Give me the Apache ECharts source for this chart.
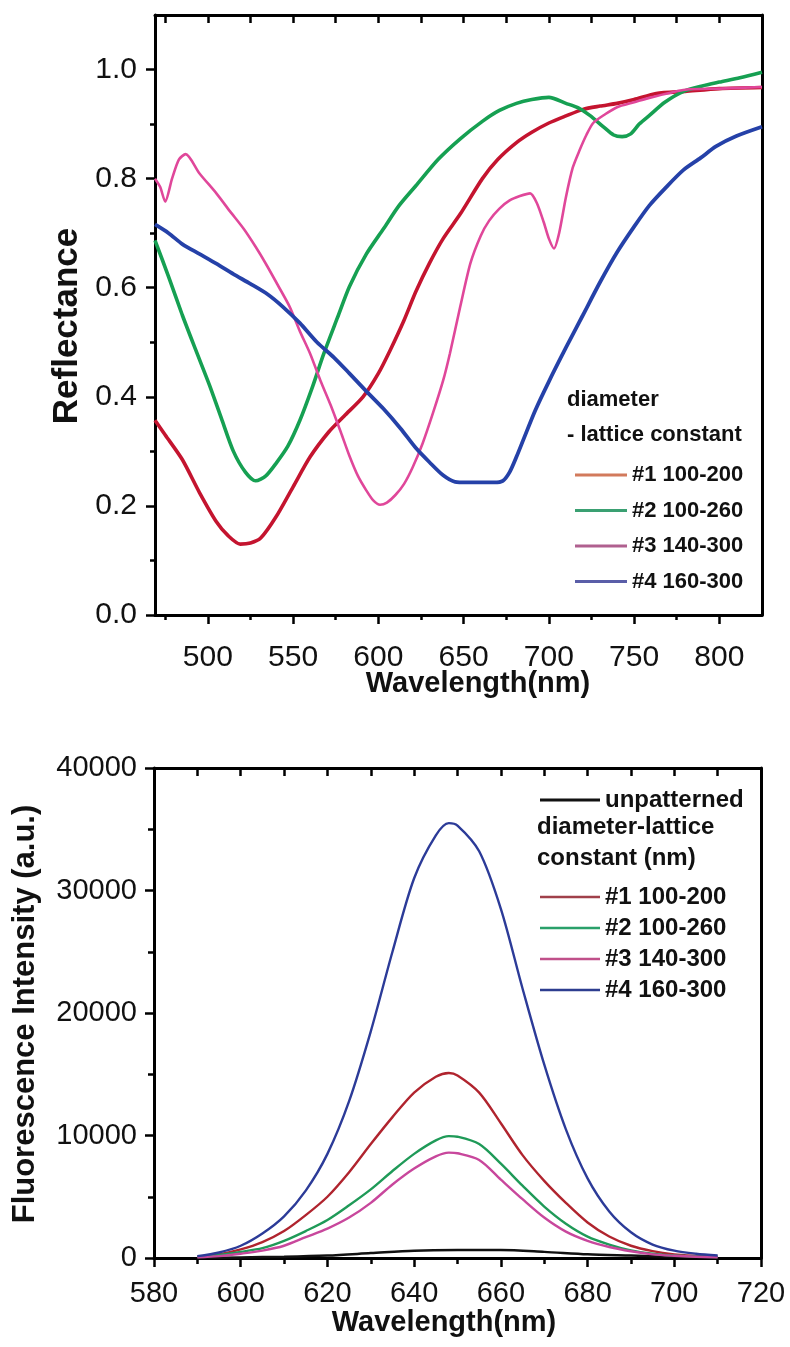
<!DOCTYPE html>
<html>
<head>
<meta charset="utf-8">
<script src="https://cdn.jsdelivr.net/npm/echarts@6/dist/echarts.min.js"></script>
<style>
  html, body { margin: 0; padding: 0; background: #ffffff; }
  #chart { width: 790px; height: 1347px; }
</style>
</head>
<body>
<div id="chart"></div>
<script>
// ---------- Top panel: Reflectance ----------
const reflMajorX = [500, 550, 600, 650, 700, 750, 800];
const reflMinorX = [475, 525, 575, 625, 675, 725, 775];
const reflMajorY = [0, 0.2, 0.4, 0.6, 0.8, 1.0];
const reflMinorY = [0.1, 0.3, 0.5, 0.7, 0.9];

const seriesNames = ['#1 100-200', '#2 100-260', '#3 140-300', '#4 160-300'];

const r1X = [469, 475, 485, 495, 505, 512, 519, 525, 531, 540, 550, 560, 571, 580, 591, 600, 607, 615, 622, 630, 638, 648, 661, 670, 681, 690, 700, 710, 720, 730, 740, 750, 763, 780, 800, 825];
const r1Y = [0.357, 0.33, 0.285, 0.225, 0.171, 0.145, 0.13, 0.132, 0.141, 0.18, 0.235, 0.29, 0.336, 0.365, 0.40, 0.443, 0.486, 0.54, 0.593, 0.645, 0.69, 0.735, 0.80, 0.835, 0.866, 0.885, 0.902, 0.915, 0.927, 0.933, 0.938, 0.945, 0.956, 0.96, 0.965, 0.967];

const r2X = [469, 477, 485, 493, 501, 508, 515, 522, 528, 534, 540, 547, 554, 561, 568, 576, 583, 593, 603, 612, 622, 635, 648, 661, 671, 681, 690, 700, 710, 717, 724, 732, 738, 743, 748, 753, 759, 768, 779, 790, 800, 812, 825];
const r2Y = [0.687, 0.62, 0.55, 0.485, 0.421, 0.36, 0.30, 0.262, 0.246, 0.255, 0.278, 0.31, 0.357, 0.415, 0.479, 0.545, 0.602, 0.662, 0.708, 0.75, 0.787, 0.835, 0.873, 0.905, 0.925, 0.938, 0.945, 0.949, 0.938, 0.93, 0.916, 0.895, 0.88, 0.877, 0.882, 0.9, 0.916, 0.94, 0.96, 0.97, 0.977, 0.985, 0.995];

const r3X = [469, 472, 475, 479, 483, 487, 495, 505, 513, 521, 528, 534, 541, 548, 554, 560, 566, 572, 578, 583, 588, 593, 597, 601, 605, 610, 615, 620, 626, 632, 638, 642, 648, 654, 660, 665, 671, 677, 683, 689, 693, 697, 700, 703, 706, 710, 714, 718, 722, 726, 733, 740, 750, 760, 780, 800, 825];
const r3Y = [0.80, 0.785, 0.758, 0.80, 0.835, 0.845, 0.81, 0.773, 0.74, 0.708, 0.675, 0.644, 0.605, 0.565, 0.52, 0.479, 0.43, 0.385, 0.335, 0.292, 0.255, 0.228, 0.21, 0.202, 0.206, 0.22, 0.24, 0.27, 0.315, 0.37, 0.43, 0.48, 0.565, 0.645, 0.695, 0.723, 0.745, 0.76, 0.768, 0.773, 0.755, 0.72, 0.69, 0.672, 0.70, 0.766, 0.82, 0.852, 0.88, 0.902, 0.918, 0.931, 0.94, 0.949, 0.963, 0.965, 0.968];

const r4X = [469, 477, 485, 495, 505, 515, 525, 535, 544, 554, 564, 574, 583, 593, 603, 613, 622, 630, 638, 645, 652, 660, 668, 673, 677, 681, 685, 692, 700, 710, 720, 730, 740, 750, 759, 769, 779, 789, 798, 810, 825];
const r4Y = [0.716, 0.70, 0.68, 0.662, 0.644, 0.625, 0.607, 0.588, 0.565, 0.535, 0.50, 0.472, 0.443, 0.41, 0.378, 0.342, 0.306, 0.28, 0.256, 0.244, 0.243, 0.243, 0.243, 0.246, 0.262, 0.29, 0.321, 0.375, 0.428, 0.49, 0.55, 0.61, 0.665, 0.712, 0.751, 0.785, 0.816, 0.838, 0.859, 0.878, 0.895];

// ---------- Bottom panel: Fluorescence ----------
const flX = [590, 595, 600, 605, 610, 615, 620, 625, 630, 635, 640, 645, 648, 650, 655, 660, 665, 670, 675, 680, 685, 690, 695, 700, 705, 710];
const fl1 = [100, 300, 700, 1300, 2200, 3500, 5000, 7000, 9300, 11500, 13500, 14800, 15100, 14900, 13500, 11000, 8400, 6300, 4500, 2900, 1750, 1000, 560, 300, 180, 100];
const fl2 = [80, 250, 500, 800, 1400, 2200, 3100, 4300, 5600, 7100, 8500, 9600, 9950, 9900, 9300, 7700, 5900, 4200, 2800, 1750, 1100, 620, 350, 200, 120, 80];
const fl3 = [50, 150, 350, 600, 1000, 1700, 2400, 3300, 4500, 6000, 7300, 8300, 8600, 8550, 8000, 6400, 4800, 3300, 2150, 1400, 900, 550, 300, 180, 100, 60];
const fl4 = [150, 450, 1000, 2000, 3400, 5500, 8500, 12800, 18500, 25000, 31000, 34500, 35500, 35300, 33200, 28500, 22000, 15800, 10500, 6500, 3800, 2100, 1100, 600, 350, 200];
const fl0X = [590, 600, 610, 620, 630, 640, 650, 660, 670, 680, 690, 700, 710];
const fl0 = [0, 50, 100, 200, 400, 600, 650, 650, 500, 300, 200, 100, 50];

const zip = (xs, ys) => xs.map((x, i) => [x, ys[i]]);

const topColors = ['#c4142f', '#16a052', '#e0479a', '#2541a8'];
const topLegendColors = ['#d27a5c', '#3aa072', '#b0608f', '#5a5ea8'];
const topWidths = [3.6, 3.6, 2.6, 3.8];
const botColors = ['#b0242e', '#1f9a58', '#c8479c', '#2c3b98'];
const botLegendColors = ['#a0404a', '#2aa06a', '#c0508a', '#2d3d8f'];

const tickFont = 'Liberation Sans, Arial, sans-serif';
const axisLineStyle = { color: '#000', width: 3 };

const chart = echarts.init(document.getElementById('chart'), null, { renderer: 'canvas' });

const topData = [zip(r1X, r1Y), zip(r2X, r2Y), zip(r3X, r3Y), zip(r4X, r4Y)];
const botData = [zip(flX, fl1), zip(flX, fl2), zip(flX, fl3), zip(flX, fl4)];

const series = [];
topData.forEach((d, i) => {
  series.push({
    name: seriesNames[i], type: 'line', xAxisIndex: 0, yAxisIndex: 0,
    data: d, showSymbol: false, symbol: 'none', smooth: 0.25,
    lineStyle: { color: topColors[i], width: topWidths[i] },
    itemStyle: { color: topColors[i] }
  });
});
series.push({
  name: 'unpatterned', type: 'line', xAxisIndex: 3, yAxisIndex: 3,
  data: zip(fl0X, fl0), showSymbol: false, symbol: 'none', smooth: 0.3,
  lineStyle: { color: '#111', width: 2.5 }, itemStyle: { color: '#111' }
});
botData.forEach((d, i) => {
  series.push({
    name: seriesNames[i], type: 'line', xAxisIndex: 3, yAxisIndex: 3,
    data: d, showSymbol: false, symbol: 'none', smooth: 0.3,
    lineStyle: { color: botColors[i], width: 2.4 },
    itemStyle: { color: botColors[i] }
  });
});

const option = {
  backgroundColor: '#ffffff',
  animation: false,
  grid: [
    { left: 155, top: 15, width: 607, height: 600 },
    { left: 154, top: 768, width: 607, height: 490 }
  ],
  xAxis: [
    { // 0 top panel bottom
      type: 'value', gridIndex: 0, position: 'bottom', min: 469, max: 825,
      axisLine: { show: true, onZero: false, lineStyle: axisLineStyle },
      axisTick: { show: true, customValues: reflMajorX, length: 9, lineStyle: { width: 2.5, color: '#000' } },
      axisLabel: { show: true, customValues: reflMajorX, fontSize: 30, fontFamily: tickFont, color: '#111', margin: 28 },
      splitLine: { show: false }
    },
    { // 1 top panel bottom minor ticks
      type: 'value', gridIndex: 0, position: 'bottom', min: 469, max: 825,
      axisLine: { show: false, onZero: false },
      axisTick: { show: true, customValues: reflMinorX, length: 5, lineStyle: { width: 2.5, color: '#000' } },
      axisLabel: { show: false }, splitLine: { show: false }
    },
    { // 2 top panel top mirror
      type: 'value', gridIndex: 0, position: 'top', min: 469, max: 825,
      axisLine: { show: true, onZero: false, lineStyle: axisLineStyle },
      axisTick: { show: true, inside: true, customValues: reflMajorX.concat(reflMinorX), length: 8, lineStyle: { width: 2.5, color: '#000' } },
      axisLabel: { show: false }, splitLine: { show: false }
    },
    { // 3 bottom panel bottom
      type: 'value', gridIndex: 1, position: 'bottom', min: 580, max: 720, interval: 20,
      axisLine: { show: true, onZero: false, lineStyle: axisLineStyle },
      axisTick: { show: true, length: 9, lineStyle: { width: 2.5, color: '#000' } },
      minorTick: { show: true, splitNumber: 2, length: 6, lineStyle: { width: 2.5, color: '#000' } },
      axisLabel: { show: true, fontSize: 29, fontFamily: tickFont, color: '#111', margin: 21, formatter: v => String(v) },
      splitLine: { show: false }
    },
    { // 4 bottom panel top mirror
      type: 'value', gridIndex: 1, position: 'top', min: 580, max: 720, interval: 20,
      axisLine: { show: true, onZero: false, lineStyle: axisLineStyle },
      axisTick: { show: true, inside: true, length: 8, lineStyle: { width: 2.5, color: '#000' } },
      minorTick: { show: true, splitNumber: 2, length: 8, lineStyle: { width: 2.5, color: '#000' } },
      axisLabel: { show: false }, splitLine: { show: false }
    }
  ],
  yAxis: [
    { // 0 top panel left
      type: 'value', gridIndex: 0, position: 'left', min: 0, max: 1.1,
      axisLine: { show: true, onZero: false, lineStyle: axisLineStyle },
      axisTick: { show: true, customValues: reflMajorY, length: 9, lineStyle: { width: 2.5, color: '#000' } },
      axisLabel: { show: true, customValues: reflMajorY, fontSize: 30, fontFamily: tickFont, color: '#111', margin: 18,
        formatter: v => Number(v).toFixed(1) },
      splitLine: { show: false }
    },
    { // 1 top panel left minor
      type: 'value', gridIndex: 0, position: 'left', min: 0, max: 1.1,
      axisLine: { show: false, onZero: false },
      axisTick: { show: true, customValues: reflMinorY, length: 5, lineStyle: { width: 2.5, color: '#000' } },
      axisLabel: { show: false }, splitLine: { show: false }
    },
    { // 2 top panel right
      type: 'value', gridIndex: 0, position: 'right', min: 0, max: 1.1,
      axisLine: { show: true, onZero: false, lineStyle: axisLineStyle },
      axisTick: { show: false }, axisLabel: { show: false }, splitLine: { show: false }
    },
    { // 3 bottom panel left
      type: 'value', gridIndex: 1, position: 'left', min: 0, max: 40000, interval: 10000,
      axisLine: { show: true, onZero: false, lineStyle: axisLineStyle },
      axisTick: { show: true, length: 9, lineStyle: { width: 2.5, color: '#000' } },
      minorTick: { show: true, splitNumber: 2, length: 6, lineStyle: { width: 2.5, color: '#000' } },
      axisLabel: { show: true, fontSize: 29, fontFamily: tickFont, color: '#111', margin: 17, formatter: v => String(v) },
      splitLine: { show: false }
    },
    { // 4 bottom panel right
      type: 'value', gridIndex: 1, position: 'right', min: 0, max: 40000,
      axisLine: { show: true, onZero: false, lineStyle: axisLineStyle },
      axisTick: { show: false }, axisLabel: { show: false }, splitLine: { show: false }
    }
  ],
  legend: [
    {
      orient: 'vertical', left: 570, top: 458, selectedMode: false,
      icon: 'rect', itemWidth: 52, itemHeight: 3, itemGap: 11.5,
      textStyle: { fontFamily: tickFont, fontWeight: 'bold', fontSize: 22, lineHeight: 24, color: '#111' },
      data: seriesNames.map((n, i) => ({ name: n, itemStyle: { color: topLegendColors[i] } }))
    },
    {
      orient: 'vertical', left: 535, top: 783, selectedMode: false,
      icon: 'rect', itemWidth: 60, itemHeight: 3, itemGap: 7,
      textStyle: { fontFamily: tickFont, fontWeight: 'bold', fontSize: 24, lineHeight: 24, color: '#111' },
      data: [{ name: 'unpatterned', itemStyle: { color: '#111' } }]
    },
    {
      orient: 'vertical', left: 535, top: 880, selectedMode: false,
      icon: 'rect', itemWidth: 60, itemHeight: 2.5, itemGap: 7,
      textStyle: { fontFamily: tickFont, fontWeight: 'bold', fontSize: 24, lineHeight: 24, color: '#111' },
      data: seriesNames.map((n, i) => ({ name: n, itemStyle: { color: botLegendColors[i] } }))
    }
  ],
  graphic: [
    { type: 'text', x: 567, y: 400, style: { text: 'diameter', font: 'bold 22px Liberation Sans, Arial, sans-serif', fill: '#111', align: 'left', verticalAlign: 'middle' } },
    { type: 'text', x: 567, y: 435, style: { text: '- lattice constant', font: 'bold 22px Liberation Sans, Arial, sans-serif', fill: '#111', align: 'left', verticalAlign: 'middle' } },
    { type: 'text', x: 537, y: 827, style: { text: 'diameter-lattice', font: 'bold 24px Liberation Sans, Arial, sans-serif', fill: '#111', align: 'left', verticalAlign: 'middle' } },
    { type: 'text', x: 537, y: 858, style: { text: 'constant (nm)', font: 'bold 24px Liberation Sans, Arial, sans-serif', fill: '#111', align: 'left', verticalAlign: 'middle' } },
    { type: 'text', x: 478, y: 684, style: { text: 'Wavelength(nm)', font: 'bold 29px Liberation Sans, Arial, sans-serif', fill: '#111', align: 'center', verticalAlign: 'middle' } },
    { type: 'text', x: 444, y: 1323, style: { text: 'Wavelength(nm)', font: 'bold 29px Liberation Sans, Arial, sans-serif', fill: '#111', align: 'center', verticalAlign: 'middle' } },
    { type: 'text', x: 67, y: 326, rotation: Math.PI / 2, style: { text: 'Reflectance', font: 'bold 35px Liberation Sans, Arial, sans-serif', fill: '#111', align: 'center', verticalAlign: 'middle' } },
    { type: 'text', x: 25, y: 1014, rotation: Math.PI / 2, style: { text: 'Fluorescence Intensity (a.u.)', font: 'bold 31px Liberation Sans, Arial, sans-serif', fill: '#111', align: 'center', verticalAlign: 'middle' } }
  ],
  series: series
};

chart.setOption(option);
</script>
</body>
</html>
